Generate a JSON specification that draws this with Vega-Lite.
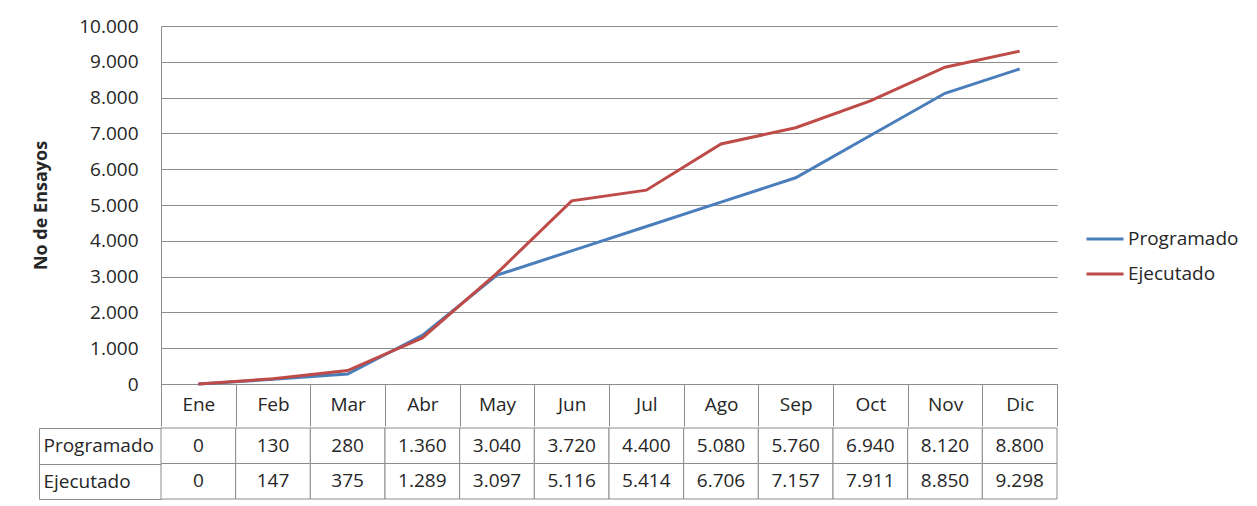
{
  "$schema": "https://vega.github.io/schema/vega-lite/v6.json",
  "padding": {"left": 32, "top": 17, "right": 0, "bottom": 0},
  "background": "white",
  "spacing": -8,
  "config": {
    "locale": {"number": {"decimal": ",", "thousands": ".", "grouping": [3], "currency": ["", " €"]}},
    "font": "Open Sans",
    "view": {"stroke": null},
    "axis": {
      "labelFont": "Open Sans",
      "labelFontSize": 19,
      "labelColor": "#262626",
      "domainColor": "#8c8c8c",
      "tickColor": "#8c8c8c",
      "gridColor": "#8c8c8c",
      "titleFont": "Open Sans",
      "titleColor": "#262626"
    },
    "legend": {"labelFont": "Open Sans", "labelFontSize": 19, "labelColor": "#262626"},
    "concat": {"spacing": 0}
  },
  "data": {
    "values": [
      {"month": "Ene", "serie": "Programado", "value": 0},
      {"month": "Feb", "serie": "Programado", "value": 130},
      {"month": "Mar", "serie": "Programado", "value": 280},
      {"month": "Abr", "serie": "Programado", "value": 1360},
      {"month": "May", "serie": "Programado", "value": 3040},
      {"month": "Jun", "serie": "Programado", "value": 3720},
      {"month": "Jul", "serie": "Programado", "value": 4400},
      {"month": "Ago", "serie": "Programado", "value": 5080},
      {"month": "Sep", "serie": "Programado", "value": 5760},
      {"month": "Oct", "serie": "Programado", "value": 6940},
      {"month": "Nov", "serie": "Programado", "value": 8120},
      {"month": "Dic", "serie": "Programado", "value": 8800},
      {"month": "Ene", "serie": "Ejecutado", "value": 0},
      {"month": "Feb", "serie": "Ejecutado", "value": 147},
      {"month": "Mar", "serie": "Ejecutado", "value": 375},
      {"month": "Abr", "serie": "Ejecutado", "value": 1289},
      {"month": "May", "serie": "Ejecutado", "value": 3097},
      {"month": "Jun", "serie": "Ejecutado", "value": 5116},
      {"month": "Jul", "serie": "Ejecutado", "value": 5414},
      {"month": "Ago", "serie": "Ejecutado", "value": 6706},
      {"month": "Sep", "serie": "Ejecutado", "value": 7157},
      {"month": "Oct", "serie": "Ejecutado", "value": 7911},
      {"month": "Nov", "serie": "Ejecutado", "value": 8850},
      {"month": "Dic", "serie": "Ejecutado", "value": 9298}
    ]
  },
  "vconcat": [
    {
      "width": 896,
      "height": 358,
      "mark": {"type": "line", "strokeWidth": 3},
      "encoding": {
        "x": {
          "field": "month",
          "type": "ordinal",
          "sort": ["Ene", "Feb", "Mar", "Abr", "May", "Jun", "Jul", "Ago", "Sep", "Oct", "Nov", "Dic"],
          "scale": {"type": "band", "paddingInner": 0, "paddingOuter": 0},
          "axis": {
            "title": null,
            "labelAngle": 0,
            "tickBand": "extent",
            "tickSize": 42,
            "labelPadding": -31,
            "labelBaseline": "top"
          }
        },
        "y": {
          "field": "value",
          "type": "quantitative",
          "scale": {"domain": [0, 10000], "nice": false},
          "axis": {
            "values": [0, 1000, 2000, 3000, 4000, 5000, 6000, 7000, 8000, 9000, 10000],
            "format": ",d",
            "ticks": false,
            "labelPadding": 23,
            "grid": true,
            "title": "No de Ensayos",
            "titleFontSize": 18,
            "titleFontWeight": "bold",
            "titlePadding": 28
          }
        },
        "color": {
          "field": "serie",
          "type": "nominal",
          "scale": {"domain": ["Programado", "Ejecutado"], "range": ["#4a7ebb", "#be4b48"]},
          "legend": {
            "title": null,
            "orient": "none",
            "legendX": 924,
            "legendY": 193,
            "symbolType": "stroke",
            "symbolStrokeWidth": 3,
            "symbolSize": 1369,
            "labelOffset": 3,
            "rowPadding": 5
          }
        },
        "order": {"field": "serie", "sort": "descending"}
      }
    },
    {
      "width": 896,
      "height": 71,
      "encoding": {
        "x": {
          "field": "month",
          "type": "ordinal",
          "sort": ["Ene", "Feb", "Mar", "Abr", "May", "Jun", "Jul", "Ago", "Sep", "Oct", "Nov", "Dic"],
          "scale": {"type": "band", "paddingInner": 0, "paddingOuter": 0},
          "axis": null
        },
        "y": {
          "field": "serie",
          "type": "nominal",
          "sort": ["Programado", "Ejecutado"],
          "scale": {"type": "band", "paddingInner": 0, "paddingOuter": 0},
          "axis": {
            "title": null,
            "orient": "left",
            "offset": 122,
            "tickBand": "extent",
            "tickSize": -122,
            "labelAlign": "left",
            "labelPadding": 118
          }
        }
      },
      "layer": [
        {"mark": {"type": "rect", "fill": "white", "stroke": "#8c8c8c", "strokeWidth": 1}},
        {
          "mark": {"type": "text", "fontSize": 19, "color": "#262626"},
          "encoding": {"text": {"field": "value", "type": "quantitative", "format": ",d"}}
        }
      ]
    }
  ]
}
